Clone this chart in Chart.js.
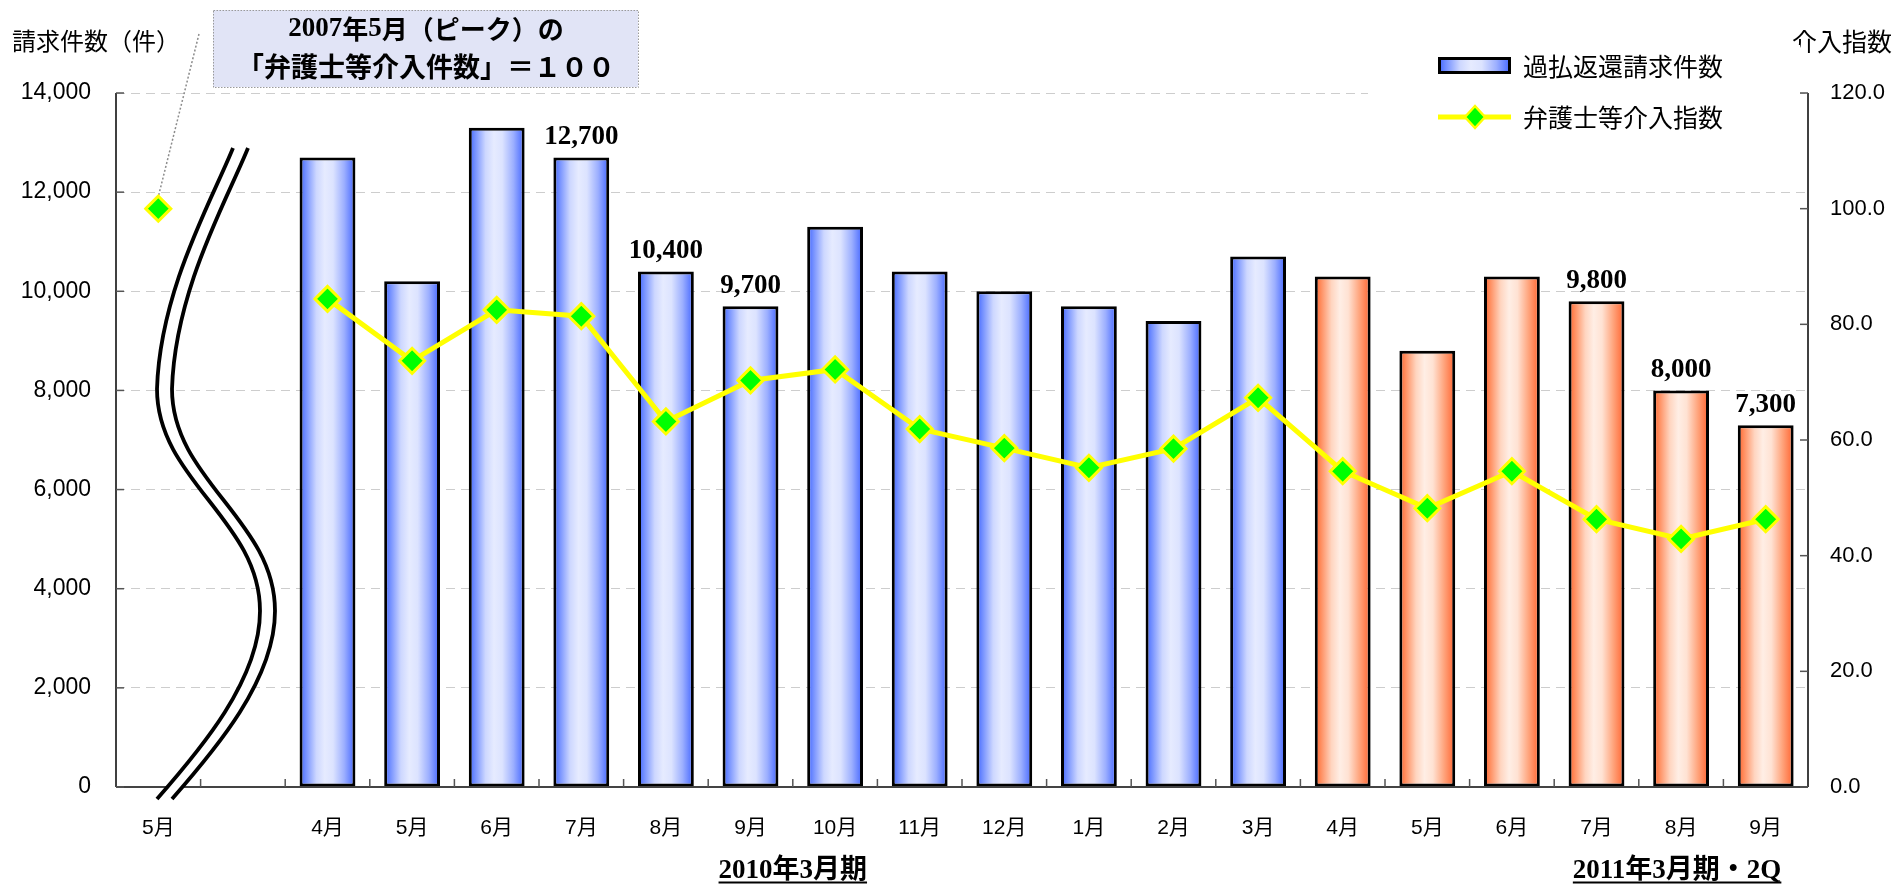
<!DOCTYPE html>
<html>
<head>
<meta charset="utf-8">
<script src="https://cdn.jsdelivr.net/npm/chart.js@4.4.1/dist/chart.umd.min.js"></script>
<style>
html,body{margin:0;padding:0;background:#fff;}
#wrap{width:1898px;height:885px;position:relative;}
</style>
</head>
<body>
<div id="wrap"><canvas id="c" width="1898" height="885"></canvas></div>
<script>
// ---------- data ----------
const categories = ['5月','', '4月','5月','6月','7月','8月','9月','10月','11月','12月','1月','2月','3月','4月','5月','6月','7月','8月','9月'];
const fiscalPeriod = [null,null,'2010','2010','2010','2010','2010','2010','2010','2010','2010','2010','2010','2010','2011','2011','2011','2011','2011','2011'];
const claimCounts = [null,null,12700,10200,13300,12700,10400,9700,11300,10400,10000,9700,9400,10700,10300,8800,10300,9800,8000,7300];
const interventionIndex = [100,null,84.4,73.7,82.5,81.4,63.2,70.3,72.2,61.9,58.6,55.2,58.5,67.3,54.6,48.2,54.6,46.3,42.9,46.3];
const labeledBars = [false,false,false,false,false,true,true,true,false,false,false,false,false,false,false,false,false,true,true,true];
const leftTickValues = [0,2000,4000,6000,8000,10000,12000,14000];
const rightTickValues = [0,20,40,60,80,100,120];
const seriesNames = ['過払返還請求件数','弁護士等介入指数'];
const periodLabels = ['2010年3月期','2011年3月期・2Q'];
const axisTitles = ['請求件数（件）','介入指数'];

// ---------- styling helpers ----------
const SANS = "'Liberation Sans','Noto Sans CJK JP',sans-serif";
const CJK = "'Noto Sans CJK JP','Liberation Sans',sans-serif";
const SERIF = "'Liberation Serif','Noto Sans CJK JP',serif";
const BLUE_STOPS = [[0,'#3d62ff'],[0.1,'#6f8cff'],[0.3,'#cdd7ff'],[0.45,'#e6ebff'],[0.6,'#dce3ff'],[0.8,'#9cafff'],[1,'#4063ff']];
const ORANGE_STOPS = [[0,'#ff5f2a'],[0.1,'#ff8a5a'],[0.3,'#ffd5c0'],[0.45,'#ffeee5'],[0.6,'#ffe2d3'],[0.8,'#ffa47c'],[1,'#ff622e']];
const BAR_PCT = 0.66;

function makeGrad(c, x0, x1, stops){
  const g = c.createLinearGradient(x0,0,x1,0);
  stops.forEach(s=>g.addColorStop(s[0],s[1]));
  return g;
}
function barFill(ctx){
  const stops = fiscalPeriod[ctx.dataIndex] === '2011' ? ORANGE_STOPS : BLUE_STOPS;
  if (ctx.type !== 'data') return stops[3][1];
  const xs = ctx.chart.scales.x;
  if (!xs || !isFinite(xs.width) || xs.width <= 0) return stops[3][1];
  const cx = xs.getPixelForValue(ctx.dataIndex);
  const half = xs.width / categories.length * BAR_PCT / 2;
  return makeGrad(ctx.chart.ctx, cx-half, cx+half, stops);
}

function drawRuns(c, runs, cx, y){
  let total = 0;
  runs.forEach(r=>{ c.font = r.font; r.w = c.measureText(r.t).width; total += r.w; });
  let x = cx - total/2;
  c.textAlign = 'left';
  runs.forEach(r=>{ c.font = r.font; c.fillText(r.t, x, y); x += r.w; });
  return {left: cx-total/2, right: cx+total/2};
}

function wavePath(c, dx){
  c.beginPath();
  c.moveTo(233+dx,148);
  c.bezierCurveTo(212+dx,200, 160+dx,290, 157+dx,389);
  c.bezierCurveTo(157+dx,480, 260+dx,520, 260+dx,611);
  c.bezierCurveTo(260+dx,680, 200+dx,750, 157+dx,799);
}

const decor = {
  id:'decor',
  beforeDatasetsDraw(chart){
    const c = chart.ctx, xs = chart.scales.x, yr = chart.scales.y1;
    const px = xs.getPixelForValue(0), py = yr.getPixelForValue(interventionIndex[0]);
    c.save();
    c.strokeStyle = '#8c8c8c'; c.lineWidth = 1.5; c.setLineDash([2,2]);
    c.beginPath(); c.moveTo(199,34); c.lineTo(px, py-12); c.stroke();
    c.restore();
  },
  afterDraw(chart){
    const c = chart.ctx, xs = chart.scales.x, ys = chart.scales.y, yr = chart.scales.y1;
    const a = chart.chartArea;
    c.save();
    // axis lines
    c.setLineDash([]);
    c.strokeStyle = '#000'; c.lineWidth = 1.5;
    c.beginPath(); c.moveTo(a.left, a.top); c.lineTo(a.left, a.bottom); c.stroke();
    c.beginPath(); c.moveTo(a.right, a.top); c.lineTo(a.right, a.bottom); c.stroke();
    c.strokeStyle = '#444'; c.lineWidth = 2;
    c.beginPath(); c.moveTo(a.left, a.bottom); c.lineTo(a.right, a.bottom); c.stroke();
    // inward ticks
    c.strokeStyle = '#555'; c.lineWidth = 1.5;
    leftTickValues.forEach(v=>{ const y = ys.getPixelForValue(v); c.beginPath(); c.moveTo(a.left,y); c.lineTo(a.left+8,y); c.stroke(); });
    rightTickValues.forEach(v=>{ const y = yr.getPixelForValue(v); c.beginPath(); c.moveTo(a.right-8,y); c.lineTo(a.right,y); c.stroke(); });
    for (let k=1;k<categories.length;k++){
      const x = (xs.getPixelForValue(k-1)+xs.getPixelForValue(k))/2;
      c.beginPath(); c.moveTo(x,a.bottom); c.lineTo(x,a.bottom-8); c.stroke();
    }
    // break wave
    c.lineCap = 'butt';
    c.strokeStyle = '#fff'; c.lineWidth = 12; wavePath(c, 7.5); c.stroke();
    c.strokeStyle = '#000'; c.lineWidth = 3.8;
    wavePath(c, 0); c.stroke();
    wavePath(c, 15); c.stroke();
    // bar value labels
    const meta = chart.getDatasetMeta(1);
    c.fillStyle = '#000'; c.font = "bold 27px " + SERIF; c.textAlign = 'center'; c.textBaseline = 'alphabetic';
    claimCounts.forEach((v,i)=>{
      if (!labeledBars[i] || v == null) return;
      const el = meta.data[i];
      c.fillText(v.toLocaleString('en-US'), el.x, el.y - 13);
    });
    // axis titles
    c.textBaseline = 'middle'; c.textAlign = 'left';
    c.font = "24px " + CJK; c.fillText(axisTitles[0], 12, 41);
    c.font = "25px " + CJK; c.fillText(axisTitles[1], 1792, 41);
    // annotation box
    c.fillStyle = '#e1e4f6'; c.fillRect(213,10,425,77);
    c.strokeStyle = '#9a9a9a'; c.lineWidth = 1; c.setLineDash([1.5,1.5]);
    c.strokeRect(213.5,10.5,425,77);
    c.setLineDash([]);
    c.fillStyle = '#000'; c.textBaseline = 'middle';
    const bSerif = "bold 27px " + SERIF, bCjk = "bold 26px " + CJK;
    drawRuns(c, [{t:'2007',font:bSerif},{t:'年',font:bCjk},{t:'5',font:bSerif},{t:'月（ピーク）の',font:bCjk}], 426, 29);
    c.font = "bold 27px " + CJK; c.textAlign = 'center';
    c.fillText('「弁護士等介入件数」＝１００', 426, 67);
    // legend
    c.fillStyle = '#fff'; c.fillRect(1368,45,432,96);
    c.fillStyle = makeGrad(c, 1438, 1511, BLUE_STOPS); c.fillRect(1438,57,73,17);
    c.strokeStyle = '#000'; c.lineWidth = 3; c.strokeRect(1439.5,58.5,70,14);
    c.strokeStyle = '#ffff00'; c.lineWidth = 5;
    c.beginPath(); c.moveTo(1438,117); c.lineTo(1511,117); c.stroke();
    c.beginPath(); c.moveTo(1475,106); c.lineTo(1485,117); c.lineTo(1475,128); c.lineTo(1465,117); c.closePath();
    c.fillStyle = '#00ff00'; c.fill(); c.lineWidth = 2.5; c.stroke();
    c.fillStyle = '#000'; c.font = "25px " + CJK; c.textAlign = 'left'; c.textBaseline = 'middle';
    c.fillText(seriesNames[0], 1523, 66);
    c.fillText(seriesNames[1], 1523, 117);
    // period labels (underlined)
    const bS = "bold 27px " + SERIF, bC = "bold 27px " + CJK;
    c.textBaseline = 'alphabetic';
    const p1x = xs.getPixelForValue(7.5);
    const r1 = drawRuns(c, [{t:'2010',font:bS},{t:'年',font:bC},{t:'3',font:bS},{t:'月期',font:bC}], p1x, 878);
    const p2x = xs.getPixelForValue(18) - 4;
    const r2 = drawRuns(c, [{t:'2011',font:bS},{t:'年',font:bC},{t:'3',font:bS},{t:'月期・',font:bC},{t:'2Q',font:bS}], p2x, 878);
    c.strokeStyle = '#000'; c.lineWidth = 2;
    [r1,r2].forEach(r=>{ c.beginPath(); c.moveTo(r.left,882.5); c.lineTo(r.right,882.5); c.stroke(); });
    c.restore();
  }
};

new Chart(document.getElementById('c'), {
  data: {
    labels: categories,
    datasets: [
      {
        type:'line', label: seriesNames[1], data: interventionIndex, yAxisID:'y1', order:1,
        borderColor:'#ffff00', borderWidth:5, tension:0, spanGaps:false, fill:false,
        pointStyle:'rectRot', pointRadius:12.5, pointHoverRadius:12.5,
        pointBackgroundColor:'#00ff00', pointBorderColor:'#ffff00', pointBorderWidth:3
      },
      {
        type:'bar', label: seriesNames[0], data: claimCounts, yAxisID:'y', order:2,
        backgroundColor: barFill, borderColor:'#000', borderWidth:3, borderSkipped:false,
        barPercentage: BAR_PCT, categoryPercentage: 1.0
      }
    ]
  },
  options: {
    responsive:false, animation:false, devicePixelRatio:1,
    layout:{ padding:{ top:93, left:0, right:0, bottom:0 } },
    plugins:{ legend:{display:false}, tooltip:{enabled:false} },
    scales:{
      x:{
        type:'category', offset:true,
        grid:{ display:false, drawTicks:false }, border:{ display:false },
        ticks:{ color:'#000', font:{ family:SANS, size:21 }, padding:29, maxRotation:0, autoSkip:false },
        afterFit(s){ s.height = 98; }
      },
      y:{
        position:'left', min:0, max:14000,
        grid:{ color:'#cdcdcd', lineWidth:1, drawTicks:false },
        border:{ display:false, dash:[9,6] },
        afterBuildTicks(s){ s.ticks = leftTickValues.map(v=>({value:v})); },
        ticks:{ color:'#000', font:{ family:SANS, size:23 }, padding:25, callback:v=>Number(v).toLocaleString('en-US') },
        afterFit(s){ s.width = 116; }
      },
      y1:{
        position:'right', min:0, max:120,
        grid:{ display:false, drawTicks:false }, border:{ display:false },
        afterBuildTicks(s){ s.ticks = rightTickValues.map(v=>({value:v})); },
        ticks:{ color:'#000', font:{ family:SANS, size:22 }, padding:22, callback:v=>Number(v).toFixed(1) },
        afterFit(s){ s.width = 90; }
      }
    }
  },
  plugins:[decor]
});
</script>
</body>
</html>
